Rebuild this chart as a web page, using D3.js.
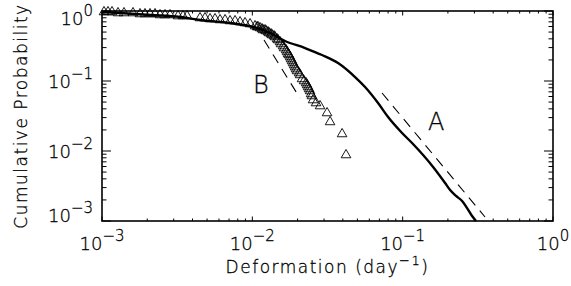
<!DOCTYPE html>
<html lang="en">
<head>
  <meta charset="UTF-8">
  <title>Cumulative probability of deformation</title>
  <style>
    body{ margin: 0; background: #fff; }
    text{ font-family: "DejaVu Sans", "Liberation Sans", sans-serif; font-weight: 200; fill: #000;
      stroke: #000; stroke-width: 0.3px; }
    .frame{ fill: none; stroke: #000; stroke-width: 1.6px; }
    .tick{ stroke: #000; stroke-width: 1px; }
    .lineA{ fill: none; stroke: #000; stroke-width: 2.4px; stroke-linejoin: round; }
    .fit{ fill: none; stroke: #000; stroke-width: 1.1px; stroke-dasharray: 10 7; }
    .tri{ fill: none; stroke: #000; stroke-width: 0.9px; }
  </style>
</head>
<body>
  <script src="https://cdn.jsdelivr.net/npm/d3@7"></script>
  <script>
    const width = 571, height = 286;
    const pLeft = 102, pRight = 553, pTop = 11, pBottom = 221;

    // curve A (solid line)
    const aX = [0.001, 0.001318, 0.002086, 0.003304, 0.004487, 0.007107, 0.01075, 0.01312,
      0.0165, 0.02242, 0.02909, 0.03717, 0.04825, 0.05621, 0.0686, 0.07998, 0.09908, 0.1155,
      0.1594, 0.1915, 0.2068, 0.2266, 0.2485, 0.2683, 0.2896, 0.3078];
    const aY = [0.968, 0.936, 0.877, 0.821, 0.744, 0.674, 0.572, 0.485,
      0.373, 0.296, 0.235, 0.181, 0.114, 0.0821, 0.0485, 0.0306, 0.0181, 0.013,
      0.00591, 0.00349, 0.00277, 0.00228, 0.00193, 0.00153, 0.00118, 0.001];

    // sample B (triangles)
    const bX = [0.001031, 0.001096, 0.001166, 0.001278, 0.001401, 0.001608, 0.00179, 0.001932,
      0.002086, 0.002253, 0.002432, 0.002626, 0.002835, 0.003204, 0.003459, 0.003678,
      0.004487, 0.004845, 0.005231, 0.005647, 0.006097, 0.006583, 0.007107, 0.007673,
      0.008284, 0.008943, 0.009654, 0.01042, 0.01075, 0.01091, 0.01125, 0.0116, 0.01178,
      0.01215, 0.01234, 0.01272, 0.01291, 0.01332, 0.01352, 0.01394, 0.01416, 0.0146,
      0.01483, 0.01529, 0.01552, 0.01601, 0.01625, 0.01676, 0.01702, 0.01728, 0.01755,
      0.01782, 0.01809, 0.01837, 0.01865, 0.01894, 0.01923, 0.01953, 0.01983, 0.02045,
      0.02077, 0.02141, 0.02208, 0.02277, 0.02312, 0.02348, 0.02384, 0.02421, 0.02458,
      0.0249, 0.02535, 0.02654, 0.02821, 0.03141, 0.03289, 0.03954, 0.04201];
    const bY = [0.968, 0.968, 0.968, 0.936, 0.936, 0.936, 0.906, 0.906,
      0.906, 0.906, 0.877, 0.877, 0.877, 0.848, 0.848, 0.848,
      0.794, 0.794, 0.769, 0.769, 0.744, 0.744, 0.72, 0.72,
      0.696, 0.674, 0.652, 0.61, 0.591, 0.591, 0.572, 0.553, 0.535,
      0.535, 0.518, 0.501, 0.485, 0.469, 0.454, 0.439, 0.425, 0.398,
      0.385, 0.361, 0.338, 0.316, 0.296, 0.277, 0.26, 0.243, 0.235,
      0.22, 0.206, 0.193, 0.181, 0.169, 0.158, 0.148, 0.139, 0.13,
      0.122, 0.107, 0.1, 0.0936, 0.0877, 0.0821, 0.0769, 0.072,
      0.0652, 0.0611, 0.0535, 0.0485, 0.0439, 0.0349, 0.026,
      0.0175, 0.00877];

    // power-law fits (dashed)
    const fitA = [[0.0729, 0.0674], [0.353, 0.00114]];
    const fitB = [[0.01196, 0.385], [0.0207, 0.0572]];

    const tickExp = [-3, -2, -1, 0];
    const labelsAB = [{t: 'A', x: 0.1476, y: 0.01995}, {t: 'B', x: 0.01011, y: 0.0674}];

    const x = d3.scaleLog().domain([1e-3, 1]).range([pLeft, pRight]);
    const y = d3.scaleLog().domain([1e-3, 1]).range([pBottom, pTop]);

    const svg = d3.select('body').append('svg')
      .attr('width', width)
      .attr('height', height);

    // ticks on all four sides, pointing in
    const xt = x.ticks(), yt = y.ticks();
    function isMajor(v){ return Math.abs(Math.log10(v) - Math.round(Math.log10(v))) < 1e-6; }
    const g = svg.append('g');
    xt.forEach(function(v){
      const len = isMajor(v) ? 4.5 : 2.5;
      g.append('line').attr('class', 'tick')
        .attr('x1', x(v)).attr('x2', x(v)).attr('y1', pBottom).attr('y2', pBottom - len);
      g.append('line').attr('class', 'tick')
        .attr('x1', x(v)).attr('x2', x(v)).attr('y1', pTop).attr('y2', pTop + len);
    });
    yt.forEach(function(v){
      const len = isMajor(v) ? 9 : 4.5;
      g.append('line').attr('class', 'tick')
        .attr('y1', y(v)).attr('y2', y(v)).attr('x1', pLeft).attr('x2', pLeft + len);
      g.append('line').attr('class', 'tick')
        .attr('y1', y(v)).attr('y2', y(v)).attr('x1', pRight).attr('x2', pRight - len);
    });
    svg.append('rect').attr('class', 'frame')
      .attr('x', pLeft).attr('y', pTop)
      .attr('width', pRight - pLeft).attr('height', pBottom - pTop);

    // tick labels 10^n
    function powerLabel(sel, e){
      sel.append('tspan').text('10');
      sel.append('tspan').attr('dy', -9).style('font-size', '15px')
        .text(e < 0 ? '\u2212' + (-e) : String(e));
    }
    tickExp.forEach(function(e){
      const t = svg.append('text')
        .attr('x', x(Math.pow(10, e))).attr('y', 250)
        .attr('text-anchor', 'middle')
        .style('font-size', '18px');
      powerLabel(t, e);
    });
    tickExp.forEach(function(e){
      let off = 7;
      if (e === 0) off = 14;
      if (e === -3) off = 1;
      const t = svg.append('text')
        .attr('x', pLeft - 9).attr('y', y(Math.pow(10, e)) + off)
        .attr('text-anchor', 'end')
        .style('font-size', '18px');
      powerLabel(t, e);
    });

    // axis titles
    const xTitle = svg.append('text')
      .attr('x', (pLeft + pRight) / 2).attr('y', 273)
      .attr('text-anchor', 'middle')
      .style('font-size', '17px')
      .style('letter-spacing', '1.5px');
    xTitle.append('tspan').text('Deformation (day');
    xTitle.append('tspan').attr('dy', -8).style('font-size', '13px').text('\u22121');
    xTitle.append('tspan').attr('dy', 8).text(')');

    svg.append('text')
      .attr('transform', 'translate(27,' + ((pTop + pBottom) / 2) + ') rotate(-90)')
      .attr('text-anchor', 'middle')
      .style('font-size', '17px')
      .style('letter-spacing', '1.5px')
      .text('Cumulative Probability');

    // data
    const plot = svg.append('g');
    const lineA = d3.line()
      .x(function(d, i){ return x(aX[i]); })
      .y(function(d, i){ return y(aY[i]); })
      .curve(d3.curveMonotoneX);
    plot.append('path').attr('class', 'lineA').attr('d', lineA(aX));

    const fit = d3.line()
      .x(function(d){ return x(d[0]); })
      .y(function(d){ return y(d[1]); });
    plot.selectAll('path.fit')
      .data([fitA, fitB])
      .enter()
      .append('path')
      .attr('class', 'fit')
      .attr('d', function(d){ return fit(d); });

    const tri = d3.symbol().type(d3.symbolTriangle).size(40);
    plot.selectAll('path.tri')
      .data(bX)
      .enter()
      .append('path')
      .attr('class', 'tri')
      .attr('transform', function(d, i){ return 'translate(' + x(d) + ',' + y(bY[i]) + ')'; })
      .attr('d', tri);

    plot.selectAll('text.lab')
      .data(labelsAB)
      .enter()
      .append('text')
      .attr('class', 'lab')
      .attr('x', function(d){ return x(d.x); })
      .attr('y', function(d){ return y(d.y); })
      .style('font-size', '24px')
      .text(function(d){ return d.t; });
  </script>
</body>
</html>
